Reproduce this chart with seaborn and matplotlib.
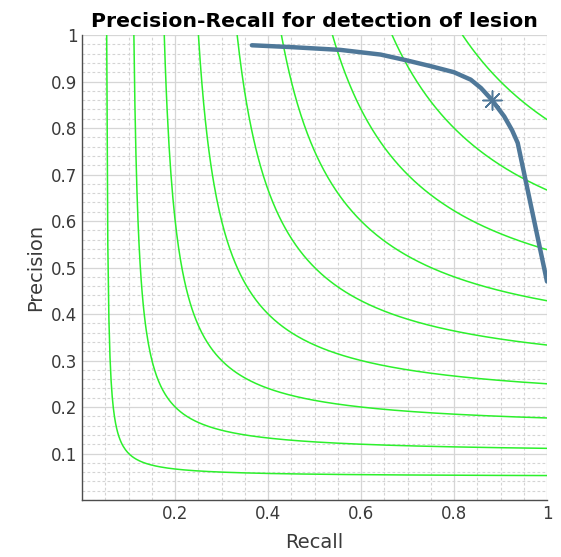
import numpy as np
import pandas as pd
import matplotlib
matplotlib.use("Agg")
import matplotlib.pyplot as plt
import seaborn as sns
from matplotlib.ticker import MultipleLocator

# Data
recall = [0.365, 0.45, 0.556, 0.642, 0.696, 0.75, 0.80, 0.836, 0.858, 0.881, 0.908, 0.925, 0.937, 1.0]
precision = [0.978, 0.974, 0.968, 0.958, 0.946, 0.933, 0.920, 0.904, 0.886, 0.861, 0.825, 0.795, 0.768, 0.47]
best_recall = [0.881]
best_precision = [0.861]
f_levels = [0.1, 0.2, 0.3, 0.4, 0.5, 0.6, 0.7, 0.8, 0.9]
x_ticks = [0.2, 0.4, 0.6, 0.8, 1]
y_ticks = [0.1, 0.2, 0.3, 0.4, 0.5, 0.6, 0.7, 0.8, 0.9, 1]

sns.set_style("white")
plt.rcParams['font.family'] = ['DejaVu Sans']

fig = plt.figure(figsize=(5.61, 5.57), dpi=100)
ax = fig.add_axes([0.1466, 0.1023, 0.8284, 0.8348])

# iso-F curves
rows = []
for f in f_levels:
    r = np.linspace(f / (2 - f), 1.0, 400)
    p = f * r / (2 * r - f)
    for ri, pi in zip(r, p):
        rows.append({"Recall": ri, "Precision": pi, "F": f})
iso = pd.DataFrame(rows)
sns.lineplot(data=iso, x="Recall", y="Precision", units="F", estimator=None,
             color="#2cf02c", lw=1.1, ax=ax, sort=False)

pr = pd.DataFrame({"Recall": recall, "Precision": precision})
sns.lineplot(data=pr, x="Recall", y="Precision", color="#4f7899", lw=3.2,
             ax=ax, sort=False, solid_joinstyle="round", solid_capstyle="round")
sns.scatterplot(x=best_recall, y=best_precision, marker=(8, 2, 0), s=190,
                color="#4f7899", linewidth=1.1, edgecolor="#4f7899", ax=ax, zorder=5)

ax.set_xlim(0, 1)
ax.set_ylim(0, 1)
ax.set_xticks(x_ticks)
ax.set_xticklabels(["0.2", "0.4", "0.6", "0.8", "1"])
ax.set_yticks(y_ticks)
ax.set_yticklabels(["0.1", "0.2", "0.3", "0.4", "0.5", "0.6", "0.7", "0.8", "0.9", "1"])
ax.xaxis.set_minor_locator(MultipleLocator(0.05))
ax.yaxis.set_minor_locator(MultipleLocator(0.02))
ax.grid(True, which="major", color="#d6d6d6", lw=0.9)
ax.grid(True, which="minor", color="#d4d4d4", lw=0.8, ls=(0, (2.5, 2)))
ax.set_axisbelow(True)

for s in ["top", "right"]:
    ax.spines[s].set_visible(False)
for s in ["left", "bottom"]:
    ax.spines[s].set_color("#4d4d4d")
    ax.spines[s].set_linewidth(1.0)
ax.tick_params(which="major", direction="in", length=4, width=0.8, color="#4d4d4d",
               labelsize=12, labelcolor="#3a3a3a")
ax.tick_params(which="minor", length=0)

ax.set_xlabel("Recall", fontsize=14, color="#3a3a3a", labelpad=7)
ax.set_ylabel("Precision", fontsize=14, color="#3a3a3a")
ax.set_title("Precision-Recall for detection of lesion", fontsize=14.7,
             fontweight="bold", pad=6, color="black")

fig.savefig("out.png", dpi=100)
